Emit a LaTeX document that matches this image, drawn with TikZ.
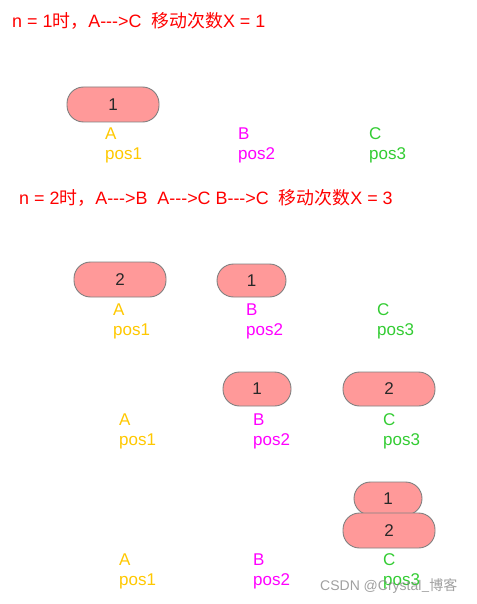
\documentclass[tikz,border=0pt]{standalone}
\usepackage{fontspec}
\setmainfont{Liberation Sans}
\newfontfamily\cjk{Noto Sans CJK SC}
\definecolor{cA}{RGB}{255,200,0}
\definecolor{cB}{RGB}{255,0,255}
\definecolor{cC}{RGB}{51,204,51}
\definecolor{boxfill}{RGB}{255,153,153}
\definecolor{boxline}{RGB}{128,128,128}
\definecolor{numcol}{RGB}{40,40,40}
\begin{document}
\begin{tikzpicture}[x=1pt,y=-1pt,
  txt/.style={anchor=base west,inner sep=0pt,font=\fontsize{17}{20}\selectfont},
  title/.style={anchor=base west,inner sep=0pt,text=red,font=\fontsize{17.9}{21}\selectfont},
  lA/.style={txt,text=cA},
  lB/.style={txt,text=cB},
  lC/.style={txt,text=cC},
  disk/.style={draw=boxline,line width=0.9pt,fill=boxfill,rounded corners=16.5pt,
    inner sep=0pt,text=numcol,font=\fontsize{17}{20}\selectfont},
  wmark/.style={anchor=base west,inner sep=0pt,text=gray,opacity=0.75,
    font=\fontsize{14}{16}\selectfont}]
\useasboundingbox (0,0) rectangle (476,604);
% titles
\node[title] (t1) at (12,28) {n = 1{\cjk 时，}A-{}-{}->C\ \ {\cjk 移动次数}X = 1};
\node[title] (t2) at (19,204) {n = 2{\cjk 时，}A-{}-{}->B\ \ A-{}-{}->C B-{}-{}->C\ \ {\cjk 移动次数}X = 3};
% row 1
\node[disk,minimum width=92pt,minimum height=35pt] (d11) at (113,104.5) {1};
\node[lA] (a1) at (105,140) {A};   \node[lA] (p11) at (105,160) {pos1};
\node[lB] (b1) at (238,140) {B};   \node[lB] (p12) at (238,160) {pos2};
\node[lC] (c1) at (369,140) {C};   \node[lC] (p13) at (369,160) {pos3};
% row 2
\node[disk,minimum width=92pt,minimum height=35pt] (d22) at (120,279.5) {2};
\node[disk,minimum width=69pt,minimum height=33pt] (d21) at (251.5,280.5) {1};
\node[lA] (a2) at (113,315) {A};   \node[lA] (p21) at (113,335) {pos1};
\node[lB] (b2) at (246,315) {B};   \node[lB] (p22) at (246,335) {pos2};
\node[lC] (c2) at (377,315) {C};   \node[lC] (p23) at (377,335) {pos3};
% row 3
\node[disk,minimum width=68pt,minimum height=34pt] (d31) at (257,389) {1};
\node[disk,minimum width=92pt,minimum height=34pt] (d32) at (389,389) {2};
\node[lA] (a3) at (119,425) {A};   \node[lA] (p31) at (119,445) {pos1};
\node[lB] (b3) at (253,425) {B};   \node[lB] (p32) at (253,445) {pos2};
\node[lC] (c3) at (383,425) {C};   \node[lC] (p33) at (383,445) {pos3};
% row 4
\node[disk,minimum width=68pt,minimum height=33pt] (d41) at (388,498.5) {1};
\node[disk,minimum width=92pt,minimum height=35pt] (d42) at (389,530.5) {2};
\node[lA] (a4) at (119,565) {A};   \node[lA] (p41) at (119,585) {pos1};
\node[lB] (b4) at (253,565) {B};   \node[lB] (p42) at (253,585) {pos2};
\node[lC] (c4) at (383,565) {C};   \node[lC] (p43) at (383,585) {pos3};
% watermark
\node[wmark] (wm) at (320,590) {CSDN @Crystal{\cjk \_博客}};
\end{tikzpicture}
\end{document}
